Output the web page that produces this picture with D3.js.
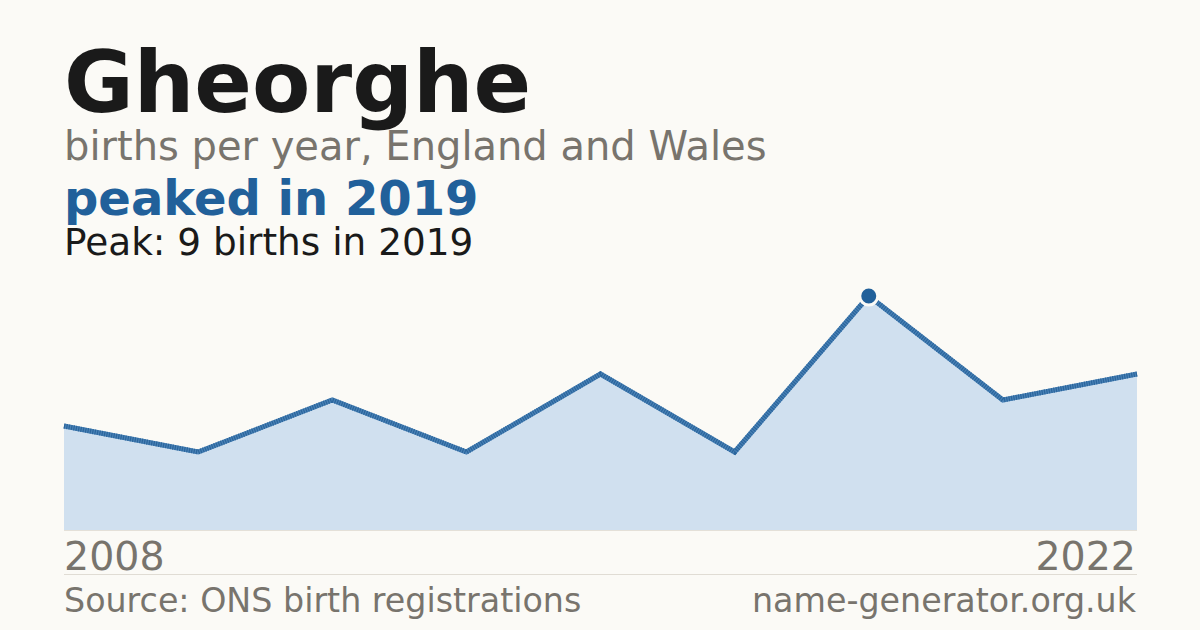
<!DOCTYPE html>
<html>
<head>
<meta charset="utf-8">
<script src="https://cdn.jsdelivr.net/npm/d3@7"></script>
<style>
 html, body { margin: 0; padding: 0; background: #fbfaf6; }
 svg { display: block; font-family: "DejaVu Sans", sans-serif; }
</style>
</head>
<body>
<div id="chart"></div>
<script>
// births per year (years with a registration only)
var years = [2008, 2010, 2012, 2013, 2015, 2017, 2019, 2020, 2022];
var births = [4, 3, 5, 3, 6, 3, 9, 5, 6];
var axisLabels = ['2008', '2022'];

var babyName = 'Gheorghe';
var subtitle = 'births per year, England and Wales';
var headline = 'peaked in 2019';
var peakNote = 'Peak: 9 births in 2019';
var source = 'Source: ONS birth registrations';
var site = 'name-generator.org.uk';

var W = 1200, H = 630;
var plotLeft = 64, plotRight = 1137;
var plotTop = 296, plotBottom = 530;

var svg = d3.select('#chart').append('svg')
 .attr('width', W).attr('height', H);

svg.append('rect').attr('width', W).attr('height', H).attr('fill', '#fbfaf6');

var data = years.map(function(y, i){ return {year: y, value: births[i]}; });

var x = d3.scalePoint().domain(years).range([plotLeft, plotRight]);
var y = d3.scaleLinear().domain([0, d3.max(births)]).range([plotBottom, plotTop]);

// titles
svg.append('text').attr('x', plotLeft).attr('y', 112)
 .attr('font-size', 85).attr('font-weight', 'bold').attr('fill', '#1a1a1a')
 .text(babyName);
svg.append('text').attr('x', plotLeft).attr('y', 160)
 .attr('font-size', 40).attr('fill', '#78746d')
 .text(subtitle);
svg.append('text').attr('x', plotLeft).attr('y', 215)
 .attr('font-size', 48).attr('font-weight', 'bold').attr('fill', '#21609a')
 .text(headline);
svg.append('text').attr('x', plotLeft).attr('y', 255)
 .attr('font-size', 37.4).attr('fill', '#1a1a1a')
 .text(peakNote);

// area + line
var area = d3.area()
 .x(function(d){ return x(d.year); })
 .y0(y(0))
 .y1(function(d){ return y(d.value); });
var line = d3.line()
 .x(function(d){ return x(d.year); })
 .y(function(d){ return y(d.value); });

svg.append('path').datum(data).attr('d', area).attr('fill', '#d0e0ef');

svg.append('line')
 .attr('x1', plotLeft).attr('x2', plotRight)
 .attr('y1', y(0) + 0.5).attr('y2', y(0) + 0.5)
 .attr('stroke', '#e4e0d8').attr('stroke-width', 1);

svg.append('path').datum(data).attr('d', line)
 .attr('fill', 'none').attr('stroke', '#4a82b6').attr('stroke-width', 5)
 .attr('stroke-linejoin', 'miter');
svg.append('path').datum(data).attr('d', line)
 .attr('fill', 'none').attr('stroke', '#2a659c').attr('stroke-width', 5)
 .attr('stroke-dasharray', '1.2,1.2');

// peak marker
var peak = data[d3.maxIndex(births)];
svg.append('circle')
 .attr('cx', x(peak.year)).attr('cy', y(peak.value)).attr('r', 9)
 .attr('fill', '#21609a').attr('stroke', '#fbfaf6').attr('stroke-width', 3);

// x labels
svg.append('text').attr('x', plotLeft).attr('y', 570)
 .attr('font-size', 39.5).attr('fill', '#78746d')
 .text(axisLabels[0]);
svg.append('text').attr('x', plotRight - 1).attr('y', 570)
 .attr('font-size', 39.5).attr('fill', '#78746d').attr('text-anchor', 'end')
 .text(axisLabels[1]);

// footer rule
svg.append('line')
 .attr('x1', plotLeft).attr('x2', plotRight)
 .attr('y1', 574.5).attr('y2', 574.5)
 .attr('stroke', '#e0dcd4').attr('stroke-width', 1);

svg.append('text').attr('x', plotLeft).attr('y', 612)
 .attr('font-size', 33.3).attr('fill', '#78746d')
 .text(source);
svg.append('text').attr('x', plotRight - 1).attr('y', 612)
 .attr('font-size', 33.3).attr('fill', '#78746d').attr('text-anchor', 'end')
 .text(site);
</script>
</body>
</html>
